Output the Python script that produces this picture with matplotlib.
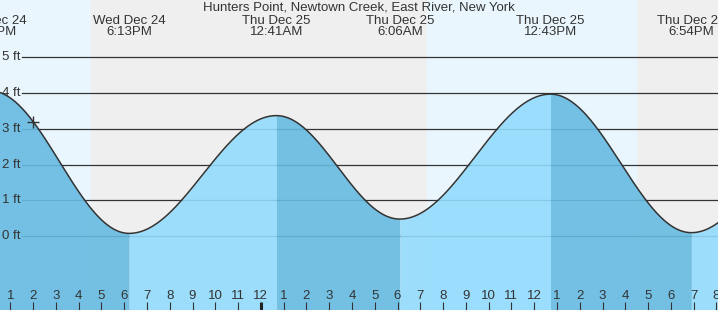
import numpy as np
import matplotlib
matplotlib.use("Agg")
import matplotlib.pyplot as plt

plt.rcParams['font.family'] = ['Liberation Sans', 'DejaVu Sans']

# high / low tide predictions (day label, time, height in ft)
ext_day = ["Wed Dec 24", "Wed Dec 24", "Thu Dec 25", "Thu Dec 25",
           "Thu Dec 25", "Thu Dec 25", "Fri Dec 26"]
ext_time = ["12:08PM", "6:13PM", "12:41AM", "6:06AM", "12:43PM", "6:54PM", "1:15AM"]
ext_ft = [4.06, 0.08, 3.37, 0.48, 3.97, 0.10, 3.50]

# sunset / sunrise boundaries
sun_day = ["Wed Dec 24", "Thu Dec 25", "Thu Dec 25"]
sun_time = ["4:32PM", "7:17AM", "4:31PM"]

now_day, now_time = "Wed Dec 24", "2:00PM"
title = "Hunters Point, Newtown Creek, East River, New York"
ft_levels = [0, 1, 2, 3, 4, 5]


def to_hours(day, t):
    # hours counted from midnight Dec 24
    base = (int(day.split()[-1]) - 24) * 24
    hm, ampm = t[:-2], t[-2:]
    h, m = map(int, hm.split(":"))
    h = h % 12 + (12 if ampm == "PM" else 0)
    return base + h + m / 60


ext_h = np.array([to_hours(d, t) for d, t in zip(ext_day, ext_time)])
ext_v = np.array(ext_ft)
sun_h = [to_hours(d, t) for d, t in zip(sun_day, sun_time)]
now_h = to_hours(now_day, now_time)


def tide_at(h):
    i = np.clip(np.searchsorted(ext_h, h) - 1, 0, len(ext_h) - 2)
    t0, t1 = ext_h[i], ext_h[i + 1]
    v0, v1 = ext_v[i], ext_v[i + 1]
    f = (h - t0) / (t1 - t0)
    return v1 + (v0 - v1) * (1 + np.cos(np.pi * f)) / 2


x0, x1 = 12.548, 44.07
y0, y1 = -2.06, 6.6

fig = plt.figure(figsize=(7.18, 3.10), dpi=100)
ax = fig.add_axes([0, 0, 1, 1])
ax.set_xlim(x0, x1)
ax.set_ylim(y0, y1)
ax.axis("off")

day_bg, night_bg = "#eaf6fe", "#efefef"
edges = [x0] + sun_h + [x1]
for k in range(len(edges) - 1):
    ax.axvspan(edges[k], edges[k + 1], color=day_bg if k % 2 == 0 else night_bg,
               lw=0, zorder=0)

for lv in ft_levels:
    ax.axhline(lv, xmin=22 / 718, color="#333333", lw=0.9, zorder=1)
    ax.text(x0 + 2 / 22.78, lv, f"{lv} ft", ha="left", va="center",
            fontsize=9.5, color="#333333", zorder=5)

# fill per segment: rising light, falling dark
for i in range(len(ext_h) - 1):
    hs = np.linspace(ext_h[i], ext_h[i + 1], 200)
    vs = tide_at(hs)
    rising = ext_v[i + 1] > ext_v[i]
    ax.fill_between(hs, y0, vs, color="#92dbfc" if rising else "#66bbe2",
                    alpha=0.9, lw=0, zorder=2)

hs = np.linspace(ext_h[0], ext_h[-1], 2000)
ax.plot(hs, tide_at(hs), color="#333333", lw=1.1, zorder=3)

ax.plot([now_h], [tide_at(now_h)], marker="+", ms=9, mew=1.0,
        color="#333333", zorder=4)

# hour ticks along bottom
for h in range(13, 45):
    mid = h % 24 == 0
    ax.vlines(h, y0, y0 + 0.23, color="#222222" if mid else "#333333",
              lw=2.2 if mid else 0.8, zorder=4)
    lab = h % 12 or 12
    ax.text(h, -1.67, str(lab), ha="center", va="center", fontsize=9.5,
            color="#333333", zorder=4)

# high/low labels at top
for d, t, h in zip(ext_day, ext_time, ext_h):
    ax.text(h, 5.87, f"{d}\n{t}", ha="center", va="center", fontsize=9.5,
            color="#333333", linespacing=0.9, zorder=5)

ax.text((x0 + x1) / 2, 6.40, title, ha="center", va="center", fontsize=9.5,
        color="#333333", zorder=5)

fig.savefig("out.png", dpi=100)
